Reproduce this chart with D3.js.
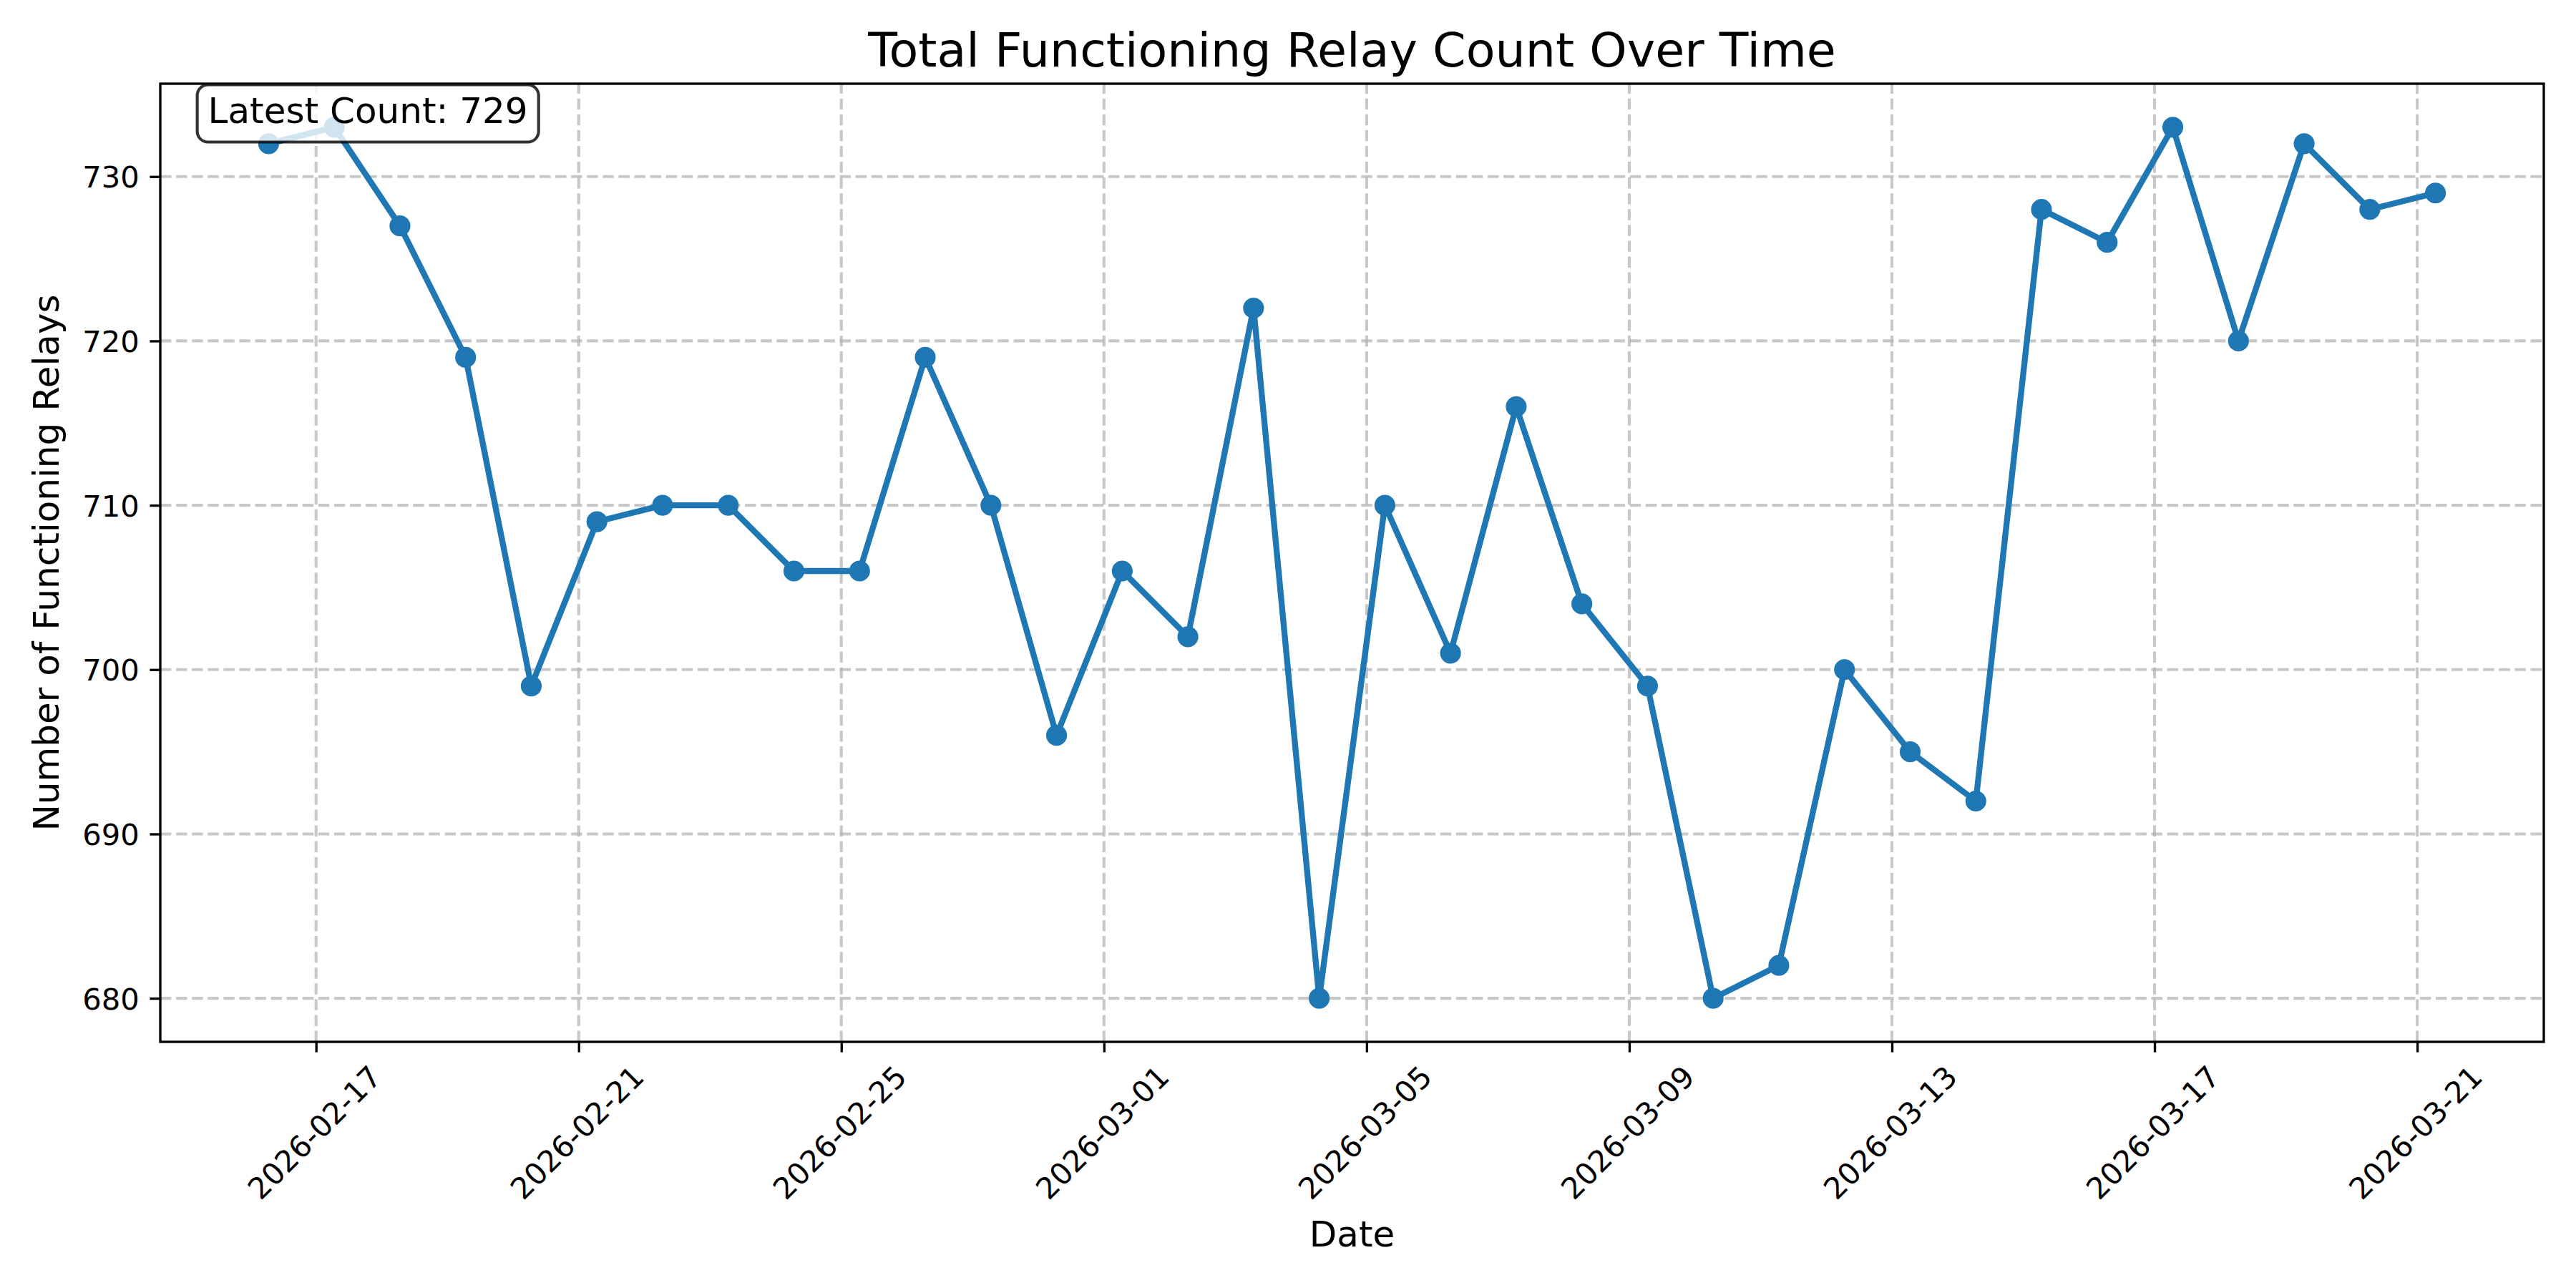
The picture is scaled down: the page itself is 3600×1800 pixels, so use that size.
<!DOCTYPE html>
<html>
<head>
<meta charset="utf-8">
<script src="https://cdn.jsdelivr.net/npm/d3@7"></script>
<style>
  body { margin: 0; background: #fff; }
  svg text { font-family: "DejaVu Sans", sans-serif; fill: #000; }
</style>
</head>
<body>
<div id="chart"></div>
<script>
// data: one reading per day
var dates = [
  "2026-02-16T06:40", "2026-02-17T06:40", "2026-02-18T06:40", "2026-02-19T06:40",
  "2026-02-20T06:40", "2026-02-21T06:40", "2026-02-22T06:40", "2026-02-23T06:40",
  "2026-02-24T06:40", "2026-02-25T06:40", "2026-02-26T06:40", "2026-02-27T06:40",
  "2026-02-28T06:40", "2026-03-01T06:40", "2026-03-02T06:40", "2026-03-03T06:40",
  "2026-03-04T06:40", "2026-03-05T06:40", "2026-03-06T06:40", "2026-03-07T06:40",
  "2026-03-08T06:40", "2026-03-09T06:40", "2026-03-10T06:40", "2026-03-11T06:40",
  "2026-03-12T06:40", "2026-03-13T06:40", "2026-03-14T06:40", "2026-03-15T06:40",
  "2026-03-16T06:40", "2026-03-17T06:40", "2026-03-18T06:40", "2026-03-19T06:40",
  "2026-03-20T06:40", "2026-03-21T06:40"
];
var counts = [
  732, 733, 727, 719, 699, 709, 710, 710, 706, 706, 719, 710, 696, 706, 702, 722,
  680, 710, 701, 716, 704, 699, 680, 682, 700, 695, 692, 728, 726, 733, 720, 732,
  728, 729
];
var xTicks = ["2026-02-17", "2026-02-21", "2026-02-25", "2026-03-01", "2026-03-05",
              "2026-03-09", "2026-03-13", "2026-03-17", "2026-03-21"];
var yTicks = [680, 690, 700, 710, 720, 730];

var titleText = "Total Functioning Relay Count Over Time";
var xLabel = "Date";
var yLabel = "Number of Functioning Relays";

var W = 3600, H = 1800;
var pL = 224, pR = 3555, pT = 117, pB = 1456;
var pt = 300 / 72;  // matplotlib points -> px at 300 dpi
var blue = "#1f77b4";

var parseT = d3.timeParse("%Y-%m-%dT%H:%M");
var parseD = d3.timeParse("%Y-%m-%d");
var data = dates.map(function(d, i) { return {t: parseT(d), v: counts[i]}; });

// 5% margins like matplotlib autoscale
var t0 = data[0].t, t1 = data[data.length - 1].t;
var span = t1 - t0;
var x = d3.scaleTime()
  .domain([new Date(+t0 - span * 0.05), new Date(+t1 + span * 0.05)])
  .range([pL, pR]);
var vmin = d3.min(counts), vmax = d3.max(counts);
var vpad = (vmax - vmin) * 0.05;
var y = d3.scaleLinear()
  .domain([vmin - vpad, vmax + vpad])
  .range([pB, pT]);

var svg = d3.select("#chart").append("svg")
  .attr("width", W)
  .attr("height", H);

svg.append("rect").attr("width", W).attr("height", H).attr("fill", "#fff");

// grid
var grid = svg.append("g")
  .attr("stroke", "#b0b0b0")
  .attr("stroke-opacity", 0.7)
  .attr("stroke-width", 1 * pt)
  .attr("stroke-dasharray", (3.7 * pt) + "," + (1.6 * pt));
grid.selectAll(".gx").data(xTicks).enter().append("line")
  .attr("x1", function(d) { return x(parseD(d)); })
  .attr("x2", function(d) { return x(parseD(d)); })
  .attr("y1", pB).attr("y2", pT);
grid.selectAll(".gy").data(yTicks).enter().append("line")
  .attr("x1", pL).attr("x2", pR)
  .attr("y1", function(d) { return y(d); })
  .attr("y2", function(d) { return y(d); });

// line + markers
var line = d3.line()
  .x(function(d) { return x(d.t); })
  .y(function(d) { return y(d.v); });

svg.append("path")
  .datum(data)
  .attr("d", line)
  .attr("fill", "none")
  .attr("stroke", blue)
  .attr("stroke-width", 2 * pt)
  .attr("stroke-linejoin", "round")
  .attr("stroke-linecap", "square");

svg.selectAll(".dot").data(data).enter().append("circle")
  .attr("cx", function(d) { return x(d.t); })
  .attr("cy", function(d) { return y(d.v); })
  .attr("r", 3 * pt)
  .attr("fill", blue)
  .attr("stroke", blue)
  .attr("stroke-width", 1 * pt);

// axes
var tickLen = 3.5 * pt, tickPad = 3.5 * pt;
var xAxis = svg.append("g")
  .attr("transform", "translate(0," + pB + ")")
  .call(d3.axisBottom(x)
    .tickValues(xTicks.map(parseD))
    .tickFormat(d3.timeFormat("%Y-%m-%d"))
    .tickSize(tickLen));
var yAxis = svg.append("g")
  .attr("transform", "translate(" + pL + ",0)")
  .call(d3.axisLeft(y)
    .tickValues(yTicks)
    .tickSize(tickLen)
    .tickPadding(tickPad));

[xAxis, yAxis].forEach(function(a) {
  a.select(".domain").remove();
  a.selectAll(".tick line").attr("stroke", "#000").attr("stroke-width", 0.8 * pt);
  a.selectAll(".tick text").attr("font-size", 10 * pt).attr("font-family", "DejaVu Sans");
});
yAxis.selectAll(".tick text").attr("dy", "0.36em");

// rotated x tick labels, bbox centred under the tick like matplotlib
var fs = 10 * pt;
xAxis.selectAll(".tick text").each(function() {
  var t = d3.select(this);
  var w = this.getComputedTextLength();
  var hb = (w + fs) * Math.SQRT1_2;
  t.attr("y", 0).attr("dy", "0.26em")
    .attr("text-anchor", "middle")
    .attr("transform", "translate(0," + (tickLen + tickPad + hb / 2) + ") rotate(-45)");
});

// spines
svg.append("rect")
  .attr("x", pL).attr("y", pT)
  .attr("width", pR - pL).attr("height", pB - pT)
  .attr("fill", "none")
  .attr("stroke", "#000")
  .attr("stroke-width", 0.8 * pt);

// labels
svg.append("text")
  .attr("x", (pL + pR) / 2).attr("y", 92.5)
  .attr("text-anchor", "middle")
  .attr("font-size", 16 * pt)
  .text(titleText);

svg.append("text")
  .attr("x", (pL + pR) / 2).attr("y", 1741.5)
  .attr("text-anchor", "middle")
  .attr("font-size", 12 * pt)
  .text(xLabel);

svg.append("text")
  .attr("transform", "translate(82," + ((pT + pB) / 2) + ") rotate(-90)")
  .attr("text-anchor", "middle")
  .attr("font-size", 12 * pt)
  .text(yLabel);

// latest count box
var afs = 12 * pt, apad = 0.3 * afs;
var tx = pL + 0.02 * (pR - pL);
var boxTop = 133.5;
var ann = svg.append("g");
var annRect = ann.append("rect");
var annText = ann.append("text")
  .attr("x", tx).attr("y", boxTop + 0.76 * afs)
  .attr("font-size", afs)
  .text("Latest Count: " + counts[counts.length - 1]);
var aw = annText.node().getComputedTextLength();
annRect
  .attr("x", tx - apad).attr("y", boxTop - apad)
  .attr("width", aw + 2 * apad).attr("height", afs + 2 * apad)
  .attr("rx", apad).attr("ry", apad)
  .attr("fill", "#fff").attr("fill-opacity", 0.8)
  .attr("stroke", "#000").attr("stroke-opacity", 0.8)
  .attr("stroke-width", 1 * pt);
</script>
</body>
</html>
